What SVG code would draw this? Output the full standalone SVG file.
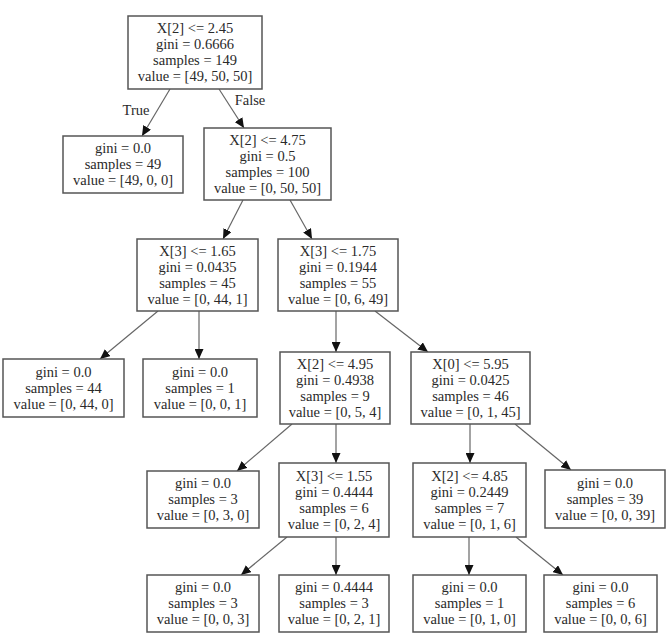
<svg xmlns="http://www.w3.org/2000/svg" width="668" height="638" viewBox="0 0 668 638">
<style>
.box{fill:#ffffff;stroke:#555555;stroke-width:1.5}
.t{font-family:"Liberation Serif","Times New Roman",serif;font-size:14.5px;fill:#2a2a2a;text-anchor:middle}
.e{fill:none;stroke:#666666;stroke-width:1.2}
</style>
<defs>
<marker id="arr" markerUnits="userSpaceOnUse" markerWidth="11" markerHeight="9" refX="10" refY="4.5" orient="auto">
<path d="M0,0 L10,4.5 L0,9 z" fill="#111111"/>
</marker>
</defs>
<rect width="668" height="638" fill="#ffffff"/>
<g id="edges">
<path class="e" d="M170,89 L142,136" marker-end="url(#arr)"/>
<path class="e" d="M219,89 L244,128" marker-end="url(#arr)"/>
<path class="e" d="M243,200 L223,239" marker-end="url(#arr)"/>
<path class="e" d="M290,200 L312,239" marker-end="url(#arr)"/>
<path class="e" d="M158,311 L100,359" marker-end="url(#arr)"/>
<path class="e" d="M199,311 L199,359" marker-end="url(#arr)"/>
<path class="e" d="M336,311 L336,352" marker-end="url(#arr)"/>
<path class="e" d="M375,311 L428,352" marker-end="url(#arr)"/>
<path class="e" d="M292,424 L237,471" marker-end="url(#arr)"/>
<path class="e" d="M336,424 L336,463" marker-end="url(#arr)"/>
<path class="e" d="M470,424 L470,463" marker-end="url(#arr)"/>
<path class="e" d="M515,424 L571,470" marker-end="url(#arr)"/>
<path class="e" d="M287,537 L241,575" marker-end="url(#arr)"/>
<path class="e" d="M336,537 L336,575" marker-end="url(#arr)"/>
<path class="e" d="M469,537 L469,575" marker-end="url(#arr)"/>
<path class="e" d="M516,537 L563,575" marker-end="url(#arr)"/>
<text class="t" x="136" y="115">True</text>
<text class="t" x="250" y="105">False</text>
</g>
<g id="n0"><rect class="box" x="128" y="16" width="134" height="73"/>
<text class="t" x="195" y="33">X[2] &lt;= 2.45</text><text class="t" x="195" y="49">gini = 0.6666</text><text class="t" x="195" y="65">samples = 149</text><text class="t" x="195" y="81">value = [49, 50, 50]</text></g>
<g id="n1"><rect class="box" x="63" y="136" width="120" height="57"/>
<text class="t" x="123" y="153">gini = 0.0</text><text class="t" x="123" y="169">samples = 49</text><text class="t" x="123" y="185">value = [49, 0, 0]</text></g>
<g id="n2"><rect class="box" x="204" y="128" width="127" height="72"/>
<text class="t" x="267.5" y="145">X[2] &lt;= 4.75</text><text class="t" x="267.5" y="161">gini = 0.5</text><text class="t" x="267.5" y="177">samples = 100</text><text class="t" x="267.5" y="193">value = [0, 50, 50]</text></g>
<g id="n3"><rect class="box" x="137" y="239" width="121" height="72"/>
<text class="t" x="197.5" y="256">X[3] &lt;= 1.65</text><text class="t" x="197.5" y="272">gini = 0.0435</text><text class="t" x="197.5" y="288">samples = 45</text><text class="t" x="197.5" y="304">value = [0, 44, 1]</text></g>
<g id="n4"><rect class="box" x="278" y="239" width="120" height="72"/>
<text class="t" x="338" y="256">X[3] &lt;= 1.75</text><text class="t" x="338" y="272">gini = 0.1944</text><text class="t" x="338" y="288">samples = 55</text><text class="t" x="338" y="304">value = [0, 6, 49]</text></g>
<g id="n5"><rect class="box" x="3" y="359" width="121" height="58"/>
<text class="t" x="63.5" y="377">gini = 0.0</text><text class="t" x="63.5" y="393">samples = 44</text><text class="t" x="63.5" y="409">value = [0, 44, 0]</text></g>
<g id="n6"><rect class="box" x="143" y="359" width="114" height="58"/>
<text class="t" x="200" y="377">gini = 0.0</text><text class="t" x="200" y="393">samples = 1</text><text class="t" x="200" y="409">value = [0, 0, 1]</text></g>
<g id="n7"><rect class="box" x="280" y="352" width="110" height="72"/>
<text class="t" x="335" y="369">X[2] &lt;= 4.95</text><text class="t" x="335" y="385">gini = 0.4938</text><text class="t" x="335" y="401">samples = 9</text><text class="t" x="335" y="417">value = [0, 5, 4]</text></g>
<g id="n8"><rect class="box" x="411" y="352" width="119" height="72"/>
<text class="t" x="470.5" y="369">X[0] &lt;= 5.95</text><text class="t" x="470.5" y="385">gini = 0.0425</text><text class="t" x="470.5" y="401">samples = 46</text><text class="t" x="470.5" y="417">value = [0, 1, 45]</text></g>
<g id="n9"><rect class="box" x="147" y="471" width="112" height="57"/>
<text class="t" x="203" y="488">gini = 0.0</text><text class="t" x="203" y="504">samples = 3</text><text class="t" x="203" y="520">value = [0, 3, 0]</text></g>
<g id="n10"><rect class="box" x="279" y="463" width="110" height="74"/>
<text class="t" x="334" y="481">X[3] &lt;= 1.55</text><text class="t" x="334" y="497">gini = 0.4444</text><text class="t" x="334" y="513">samples = 6</text><text class="t" x="334" y="529">value = [0, 2, 4]</text></g>
<g id="n11"><rect class="box" x="413" y="463" width="113" height="74"/>
<text class="t" x="469.5" y="481">X[2] &lt;= 4.85</text><text class="t" x="469.5" y="497">gini = 0.2449</text><text class="t" x="469.5" y="513">samples = 7</text><text class="t" x="469.5" y="529">value = [0, 1, 6]</text></g>
<g id="n12"><rect class="box" x="545" y="470" width="120" height="58"/>
<text class="t" x="605" y="488">gini = 0.0</text><text class="t" x="605" y="504">samples = 39</text><text class="t" x="605" y="520">value = [0, 0, 39]</text></g>
<g id="n13"><rect class="box" x="147" y="575" width="112" height="57"/>
<text class="t" x="203" y="592">gini = 0.0</text><text class="t" x="203" y="608">samples = 3</text><text class="t" x="203" y="624">value = [0, 0, 3]</text></g>
<g id="n14"><rect class="box" x="279" y="575" width="110" height="57"/>
<text class="t" x="334" y="592">gini = 0.4444</text><text class="t" x="334" y="608">samples = 3</text><text class="t" x="334" y="624">value = [0, 2, 1]</text></g>
<g id="n15"><rect class="box" x="413" y="575" width="113" height="57"/>
<text class="t" x="469.5" y="592">gini = 0.0</text><text class="t" x="469.5" y="608">samples = 1</text><text class="t" x="469.5" y="624">value = [0, 1, 0]</text></g>
<g id="n16"><rect class="box" x="544" y="575" width="113" height="57"/>
<text class="t" x="600.5" y="592">gini = 0.0</text><text class="t" x="600.5" y="608">samples = 6</text><text class="t" x="600.5" y="624">value = [0, 0, 6]</text></g>
</svg>
